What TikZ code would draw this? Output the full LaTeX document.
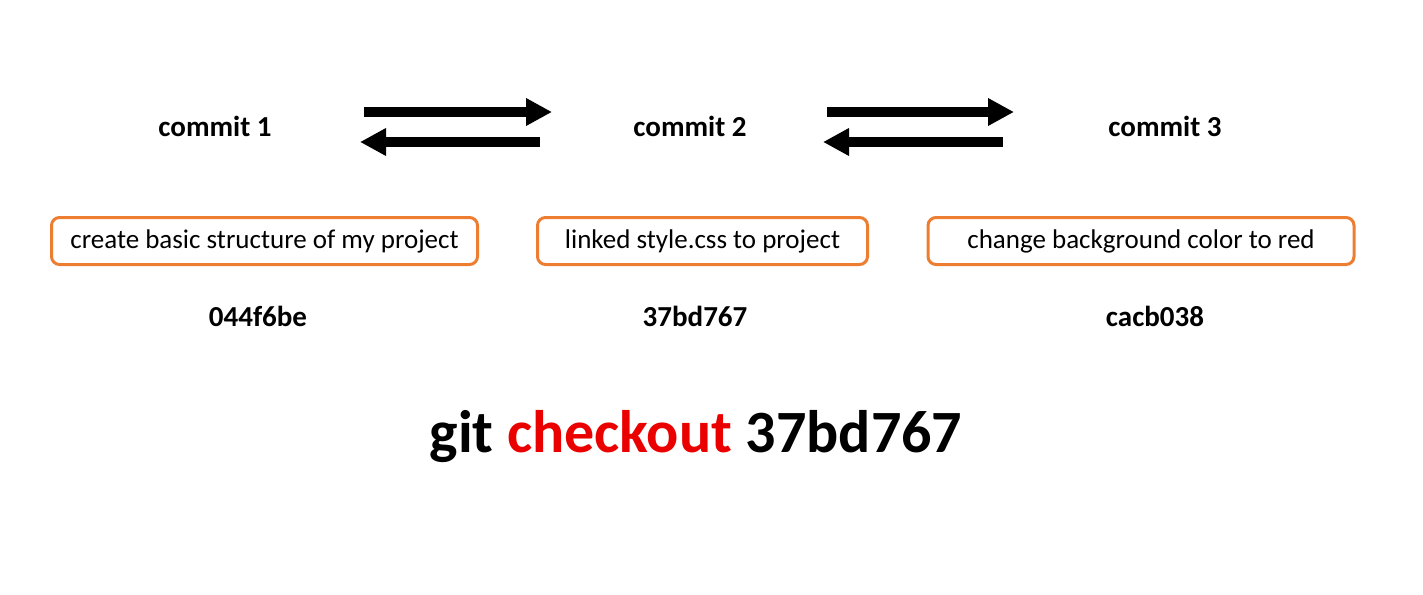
\documentclass[tikz,border=0pt]{standalone}
\usepackage{fontspec}
\setmainfont{Carlito}
\usepackage{xcolor}
\usetikzlibrary{arrows.meta}
\definecolor{ob}{RGB}{237, 125, 49}
\definecolor{rd}{RGB}{235, 0, 0}

\begin{document}
\begin{tikzpicture}[x = 1pt, y = -1pt,
  lbl/.style = {font = \fontsize{29}{34}\selectfont\bfseries},
  msg/.style = {draw = ob, line width = 3pt, rounded corners = 8pt, minimum width = 426pt, minimum height = 47pt, font = \fontsize{27}{32}\selectfont},
  arr/.style = {line width = 10pt, -{Triangle[length = 26pt, width = 26pt]}}]
\useasboundingbox (0,0) rectangle (1423,594);
\node[lbl] (commit1) at (215,126) {commit 1};
\node[lbl] (commit2) at (690,126) {commit 2};
\node[lbl] (commit3) at (1165,126) {commit 3};
\coordinate (a1s) at (364,112);
\coordinate (a1e) at (552,112);
\coordinate (b1s) at (540,142);
\coordinate (b1e) at (360,142);
\coordinate (a2s) at (827,112);
\coordinate (a2e) at (1014,112);
\coordinate (b2s) at (1003,142);
\coordinate (b2e) at (823,142);
\draw[arr] (a1s) -- (a1e);
\draw[arr] (b1s) -- (b1e);
\draw[arr] (a2s) -- (a2e);
\draw[arr] (b2s) -- (b2e);
\node[msg] (box1) at (264.5,241) {create basic structure of my project};
\node[msg, minimum width = 330pt] (box2) at (702.5,241) {linked style.css to project};
\node[msg] (box3) at (1141,241) {change background color to red};
\node[lbl] (hash1) at (258,316) {044f6be};
\node[lbl] (hash2) at (695,316) {37bd767};
\node[lbl] (hash3) at (1155,316) {cacb038};
\node[font = \fontsize{60}{70}\selectfont\bfseries] (cmd) at (696,437) {git \textcolor{rd}{checkout} 37bd767};
\end{tikzpicture}
\end{document}
